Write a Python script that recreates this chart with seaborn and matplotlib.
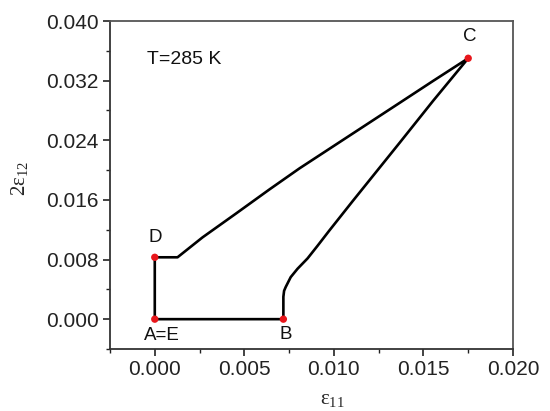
import matplotlib
matplotlib.use("Agg")
import matplotlib.pyplot as plt
import seaborn as sns
import pandas as pd
from matplotlib.ticker import MultipleLocator, FormatStrFormatter

# Loading path A -> B -> C -> D -> E
path_x = [0.0, 0.00718, 0.00718, 0.00722, 0.00731, 0.00759, 0.00797, 0.00853,
          0.00909, 0.00974, 0.01106, 0.01368, 0.01554, 0.0175,
          0.01554, 0.01368, 0.01088, 0.00808, 0.0064, 0.004535, 0.002665,
          0.00127, 0.0, 0.0]
path_y = [0.0, 0.0, 0.0030, 0.0038, 0.00431, 0.00564, 0.00676, 0.00815,
          0.00985, 0.01187, 0.01587, 0.02369, 0.02929, 0.0350,
          0.03196, 0.02903, 0.02463, 0.02023, 0.0174, 0.01417, 0.01097,
          0.0083, 0.0083, 0.0]

# Marked corner points
pt_labels = ["A=E", "B", "C", "D"]
pt_x = [0.0, 0.00718, 0.0175, 0.0]
pt_y = [0.0, 0.0, 0.0350, 0.0083]
lbl_x = [0.0004, 0.0073, 0.01757, 0.0]
lbl_y = [-0.0022, -0.0021, 0.0379, 0.0110]

sns.set_theme(style="ticks")
plt.rcParams["font.family"] = ["Liberation Sans", "DejaVu Sans"]
plt.rcParams["mathtext.fontset"] = "custom"
plt.rcParams["mathtext.rm"] = "Liberation Serif"
plt.rcParams["mathtext.it"] = "Liberation Serif:italic"

fig = plt.figure(figsize=(5.5, 4.11), dpi=100)
ax = fig.add_axes([0.2, 0.1509, 0.7327, 0.798])

df = pd.DataFrame({"x": path_x, "y": path_y})
sns.lineplot(data=df, x="x", y="y", sort=False, estimator=None, color="black",
             linewidth=1.9, ax=ax)
sns.scatterplot(x=pt_x, y=pt_y, color="#e8161b", s=28, edgecolor="none", zorder=5, ax=ax)

for t, x, y in zip(pt_labels, lbl_x, lbl_y):
    ax.text(x, y, t, ha="center", va="center", fontsize=13.5, color="#111111")

ax.text(-0.00043, 0.0349, "T=285 K", ha="left", va="center", fontsize=14, color="#111111")

ax.set_xlim(-0.0025, 0.020)
ax.set_ylim(-0.004, 0.040)
ax.xaxis.set_major_locator(MultipleLocator(0.005))
ax.xaxis.set_minor_locator(MultipleLocator(0.0025))
ax.yaxis.set_major_locator(MultipleLocator(0.008))
ax.yaxis.set_minor_locator(MultipleLocator(0.004))
ax.xaxis.set_major_formatter(FormatStrFormatter("%.3f"))
ax.yaxis.set_major_formatter(FormatStrFormatter("%.3f"))
ax.tick_params(axis="both", which="major", direction="out", length=5, width=1.2,
               labelsize=15, colors="#222222", pad=3)
ax.tick_params(axis="both", which="minor", direction="out", length=3, width=1.0, colors="#222222")

for s in ["left", "bottom"]:
    ax.spines[s].set_color("#333333")
    ax.spines[s].set_linewidth(1.3)
for s in ["top", "right"]:
    ax.spines[s].set_visible(True)
    ax.spines[s].set_color("#555555")
    ax.spines[s].set_linewidth(1.3)

ax.set_xlabel(r"$\mathrm{\varepsilon}_{\mathrm{11}}$", fontsize=15)
ax.set_ylabel(r"$\mathrm{2\varepsilon}_{\mathrm{12}}$", fontsize=15)
ax.xaxis.set_label_coords(0.553, -0.125)
ax.yaxis.set_label_coords(-0.198, 0.52)

fig.savefig("out.png", dpi=100)
